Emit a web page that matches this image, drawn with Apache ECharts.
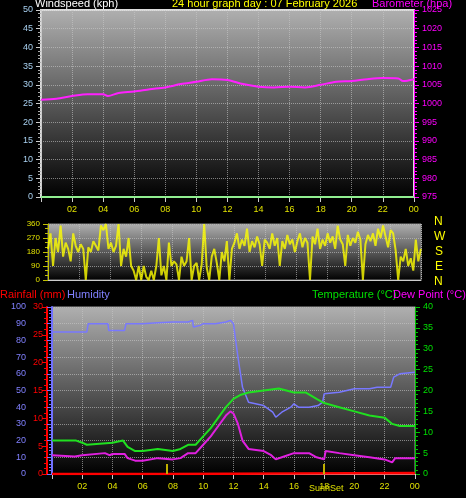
<!DOCTYPE html>
<html><head><meta charset="utf-8">
<script src="https://cdn.jsdelivr.net/npm/echarts@6/dist/echarts.min.js"></script>
<style>html,body{margin:0;padding:0;background:#000;}#c{width:466px;height:498px;}</style>
</head><body><div id="c"></div>
<script>
const hourTicks = ['02','04','06','08','10','12','14','16','18','20','22','00'];
const windspeed = [[0,0],[24,0]];
const pressure = [[0,1001],[1,1001.3],[2,1002],[3,1002.5],[4,1002.5],[4.3,1002],[5,1002.8],[6,1003.2],[7,1003.8],[8,1004.3],[9,1005.2],[10,1005.8],[11,1006.5],[12,1006.3],[13,1005.2],[14,1004.5],[15,1004.3],[16,1004.5],[17,1004.3],[18,1005],[19,1005.8],[20,1006],[21,1006.5],[22,1006.8],[23,1006.7],[23.3,1006],[24,1006.5]];
const windDir = [200,300,90,270,180,350,150,240,200,120,300,220,
180,230,200,0,210,180,250,220,190,350,320,360,
200,240,180,220,360,90,200,150,270,90,60,0,90,
0,90,20,0,60,0,90,270,30,90,0,240,
90,120,100,0,150,90,120,270,0,90,110,0,100,
360,80,0,150,200,110,0,180,120,250,0,200,
240,300,200,260,220,330,180,250,210,280,230,90,260,
240,200,300,220,270,90,250,200,290,230,260,180,
250,300,210,270,240,0,280,230,330,200,260,220,300,
240,280,200,350,260,230,90,290,220,270,240,310,
260,0,230,290,250,300,220,330,270,350,280,210,320,
300,190,0,150,120,200,90,140,60,260,120,200];
const humidity = [[0,85],[2.3,85],[2.4,90],[3.7,90],[3.75,86],[4.8,86],[4.9,90],[6,90],[7,90.5],[8,91],[9,91],[9.05,92],[9.3,92],[9.35,88],[9.8,89],[10,90],[10.8,90],[10.9,89],[11.5,91],[11.8,92],[12,90],[12.3,70],[12.6,52],[13,43],[14,41],[14.6,37],[14.8,34],[15.2,37],[15.8,40],[16,42],[16.3,40],[17,40],[17.6,41],[17.9,43],[18,48],[19,49],[20,51],[21,51],[21.5,52],[22.4,52],[22.6,58],[23,60],[24,61]];
const rainfall = [[0,0],[7.6,0],[7.65,0.2],[23.9,0.2],[24,0]];
const temperature = [[0,8],[1.6,8],[2,7.5],[2.3,7],[4,7.5],[4.7,8],[5,6.5],[5.5,5.5],[6,5.5],[7,6],[8,5.5],[8.5,6],[9,7],[9.5,7],[10,9],[10.5,11],[11,13.5],[11.5,16],[12,18],[12.5,19],[13,19.5],[14,20],[15,20.5],[16,19.5],[16.8,19.5],[17.5,18],[18,17],[19,16],[20,15],[21,14],[22,13.5],[22.5,12],[23,11.5],[24,11.5]];
const dewPoint = [[0,4.5],[1.5,4.2],[2,4.5],[3.5,5],[3.8,4.5],[4,4.8],[4.8,4.8],[5,3.8],[5.5,3.2],[6,3.2],[7,3.8],[8,3.5],[8.5,3.8],[9,5],[9.5,5],[10,7],[10.5,9],[11,11.5],[11.5,14],[11.8,15],[12,14.5],[12.3,12],[12.6,8],[13,6],[14,5.5],[14.5,4.5],[14.8,3.5],[15.2,4],[16,5],[17,5],[17.5,4],[18,3.5],[18.1,5.5],[19,5],[20,4.5],[21,4],[22,3.5],[22.5,2.8],[22.7,3.8],[24,3.8]];
const sunEvents = [7.6, 17.95];

const ch = echarts.init(document.getElementById('c'));
const bg = {type:'linear',x:0,y:0,x2:0,y2:1,colorStops:[{offset:0,color:'#b0b0b0'},{offset:1,color:'#000'}]};
const F = 'Liberation Sans';
const gridLine = {show:true,lineStyle:{color:'#c8c8c8',type:'dotted',opacity:0.6}};
function xAx(gi, showLabels){
  return {type:'value',gridIndex:gi,min:0,max:24.01,interval:2,
    axisLine:{show:true,lineStyle:{color:'#ccc'}},axisTick:{show:showLabels,lineStyle:{color:'#ccc'}},
    splitLine:gridLine,
    axisLabel:{show:showLabels,showMaxLabel:true,hideOverlap:false,color:'#e0e000',fontSize:9,fontFamily:F,formatter:v=>(v===0||v>24)?'':hourTicks[v/2-1]}};
}
const dirData = windDir.map((d,i)=>[i*24/(windDir.length-1),d]);
const tf = '11px '+F;
ch.setOption({
  animation:false,
  backgroundColor:'#000',
  grid:[
    {left:41,width:373,top:10,height:187,show:true,backgroundColor:bg,borderColor:'#ddd',borderWidth:2},
    {left:48,width:373,top:224,height:56,show:true,backgroundColor:bg,borderColor:'#888',borderWidth:1},
    {left:52,width:363,top:307,height:167,show:true,backgroundColor:bg,borderColor:'#999',borderWidth:1}
  ],
  xAxis:[xAx(0,true),xAx(1,false),xAx(2,true)],
  yAxis:[
    {type:'value',gridIndex:0,min:0,max:50,interval:5,position:'left',
      axisLine:{show:true,lineStyle:{color:'#ccc'}},axisTick:{show:true},minorTick:{show:true,splitNumber:5,lineStyle:{color:'#aaa'}},
      splitLine:gridLine,axisLabel:{color:'#a8d0f0',fontSize:9,fontFamily:F}},
    {type:'value',gridIndex:0,min:975,max:1025,interval:5,position:'right',
      axisLine:{show:true,lineStyle:{color:'#ff00ff'}},axisTick:{show:true},minorTick:{show:true,splitNumber:5},
      splitLine:{show:false},axisLabel:{color:'#ff00ff',fontSize:9,fontFamily:F,formatter:v=>String(v)}},
    {type:'value',gridIndex:1,min:0,max:360,interval:90,
      axisLine:{show:true,lineStyle:{color:'#c0c000'}},axisTick:{show:true},minorTick:{show:true,splitNumber:3},
      splitLine:gridLine,axisLabel:{color:'#e0e000',fontSize:8,fontFamily:F}},
    {type:'value',gridIndex:2,min:0,max:100,interval:10,position:'left',offset:22,
      axisLine:{show:true,lineStyle:{color:'#7070ff',width:2}},axisTick:{show:true},minorTick:{show:true,splitNumber:5},
      splitLine:gridLine,axisLabel:{color:'#8080ff',fontSize:9,fontFamily:F,margin:4}},
    {type:'value',gridIndex:2,min:0,max:30,interval:5,position:'left',offset:5,
      axisLine:{show:true,lineStyle:{color:'#ff0000',width:2}},axisTick:{show:true},minorTick:{show:true,splitNumber:5},
      splitLine:{show:false},axisLabel:{color:'#ff0000',fontSize:9,fontFamily:F,margin:4}},
    {type:'value',gridIndex:2,min:0,max:40,interval:5,position:'right',
      axisLine:{show:true,lineStyle:{color:'#00c000'}},axisTick:{show:true},minorTick:{show:true,splitNumber:5},
      splitLine:{show:false},axisLabel:{color:'#00e000',fontSize:9,fontFamily:F}}
  ],
  series:[
    {type:'line',xAxisIndex:0,yAxisIndex:0,data:windspeed,symbol:'none',lineStyle:{color:'#90ee90',width:2}},
    {type:'line',xAxisIndex:0,yAxisIndex:1,data:pressure,symbol:'none',smooth:0.3,lineStyle:{color:'#ff20ff',width:2}},
    {type:'line',xAxisIndex:1,yAxisIndex:2,data:dirData,symbol:'none',lineStyle:{color:'#ffff00',width:2,opacity:0.8}},
    {type:'line',xAxisIndex:2,yAxisIndex:3,data:humidity,symbol:'none',lineStyle:{color:'#7878ff',width:1.5}},
    {type:'line',xAxisIndex:2,yAxisIndex:5,data:temperature,symbol:'none',lineStyle:{color:'#20e020',width:2}},
    {type:'line',xAxisIndex:2,yAxisIndex:5,data:dewPoint,symbol:'none',lineStyle:{color:'#e020e0',width:2}},
    {type:'line',xAxisIndex:2,yAxisIndex:4,data:rainfall,symbol:'none',lineStyle:{color:'#ff0000',width:2.5},
      markLine:{silent:true,symbol:'none',label:{show:false},lineStyle:{color:'#c0b000',type:'solid',width:2},
        data:sunEvents.map(s=>[{coord:[s,0]},{coord:[s,1.8]}])}}
  ],
  graphic:[
    {type:'text',left:35,top:-2,style:{text:'Windspeed (kph)',fill:'#fff',font:tf}},
    {type:'text',left:172,top:-2,style:{text:'24 hour graph day : 07 February 2026',fill:'#ffff00',font:tf}},
    {type:'text',left:372,top:-2,style:{text:'Barometer (hpa)',fill:'#ff00ff',font:tf}},
    {type:'text',left:434,top:216,style:{text:'N',fill:'#ffff00',font:'12px '+F}},
    {type:'text',left:434,top:231,style:{text:'W',fill:'#ffff00',font:'12px '+F}},
    {type:'text',left:435,top:246,style:{text:'S',fill:'#ffff00',font:'12px '+F}},
    {type:'text',left:435,top:261,style:{text:'E',fill:'#ffff00',font:'12px '+F}},
    {type:'text',left:434,top:276,style:{text:'N',fill:'#ffff00',font:'12px '+F}},
    {type:'text',left:0,top:289,style:{text:'Rainfall (mm)',fill:'#ff0000',font:tf}},
    {type:'text',left:67,top:289,style:{text:'Humidity',fill:'#8080ff',font:tf}},
    {type:'text',left:312,top:289,style:{text:'Temperature (°C)',fill:'#00e000',font:tf}},
    {type:'text',left:393,top:289,style:{text:'Dew Point (°C)',fill:'#ff00ff',font:tf}},
    {type:'text',left:309,top:484,style:{text:'SunriSet',fill:'#e0e000',font:'9px '+F}}
  ]
});
</script></body></html>
